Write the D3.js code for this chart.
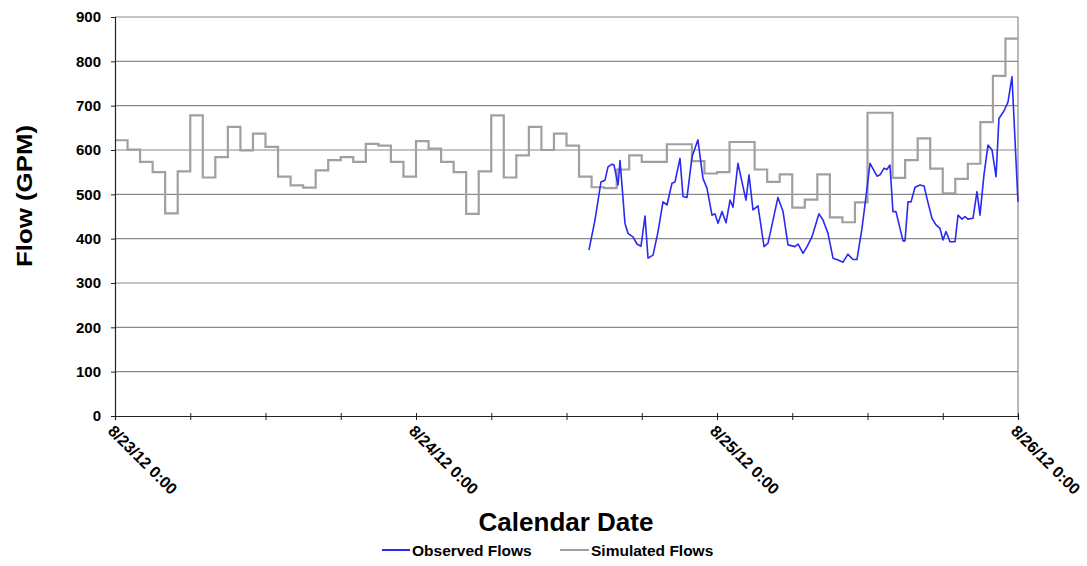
<!DOCTYPE html>
<html>
<head>
<meta charset="utf-8">
<script src="https://cdn.jsdelivr.net/npm/d3@7"></script>
<style>
  html, body { margin: 0; padding: 0; background: #fff; }
  svg { display: block; }
  text { font-family: "Liberation Sans", Arial, sans-serif; font-weight: bold; fill: #000; }
</style>
</head>
<body>
<svg id="chart" width="1087" height="566"></svg>
<script>
// Hourly simulated flows (GPM), starting 8/23/12 0:00
const simFlows = [
  622, 601, 573, 550, 457, 552, 678, 538, 584, 652, 599, 637, 607, 540, 520, 515, 554, 577, 584, 573, 614, 610, 573, 540,
  620, 603, 573, 550, 456, 552, 678, 538, 588, 652, 600, 637, 610, 540, 516, 514, 556, 588, 573, 573, 613, 613, 575, 547,
  550, 618, 618, 556, 528, 545, 470, 488, 545, 448, 437, 482, 684, 684, 537, 577, 626, 558, 502, 535, 569, 663, 767, 851
];

// Observed flows: hours since 8/23/12 0:00 and flow (GPM)
const obsHours = [
  37.79, 38.27, 38.75, 39.07, 39.31, 39.63, 39.79, 40.11, 40.27, 40.66, 40.90, 41.30, 41.62, 41.94, 42.26, 42.50,
  42.90, 43.30, 43.69, 44.01, 44.41, 44.65, 45.05, 45.29, 45.61, 46.01, 46.48, 46.88, 47.20, 47.60, 47.84, 48.08,
  48.40, 48.72, 49.04, 49.28, 49.67, 50.31, 50.55, 50.87, 51.27, 51.75, 52.07, 52.86, 53.26, 53.66, 54.22, 54.46,
  54.86, 55.18, 55.57, 56.13, 56.45, 56.85, 57.25, 57.65, 58.05, 58.44, 58.84, 59.16, 59.56, 59.88, 60.20, 60.76,
  61.00, 61.32, 61.55, 61.79, 62.03, 62.27, 62.83, 62.99, 63.23, 63.47, 63.79, 64.19, 64.51, 64.74, 65.14, 65.46,
  65.78, 66.02, 66.26, 66.58, 66.98, 67.22, 67.54, 67.77, 68.01, 68.41, 68.73, 68.97, 69.29, 69.61, 69.93, 70.25,
  70.48, 70.88, 71.20, 71.52, 72.00
];
const obsFlows = [
  374, 442, 528, 532, 562, 568, 566, 521, 576, 435, 412, 404, 388, 383, 451, 356,
  363, 416, 483, 476, 525, 528, 581, 495, 493, 585, 623, 536, 514, 453, 456, 435,
  461, 436, 487, 471, 570, 487, 544, 465, 474, 382, 390, 493, 462, 386, 382, 388,
  367, 382, 404, 456, 442, 412, 356, 352, 347, 365, 353, 353, 423, 495, 570, 541,
  544, 559, 556, 566, 461, 461, 395, 395, 483, 483, 516, 521, 519, 491, 446, 431,
  423, 397, 416, 393, 393, 453, 444, 450, 444, 446, 506, 453, 545, 611, 600, 540,
  671, 688, 708, 765, 483
];

const yTicks = [0, 100, 200, 300, 400, 500, 600, 700, 800, 900];
const dayLabels = ["8/23/12 0:00", "8/24/12 0:00", "8/25/12 0:00", "8/26/12 0:00"];
const seriesNames = ["Observed Flows", "Simulated Flows"];
const seriesColors = ["#2a2af2", "#a0a0a0"];

const start = new Date(2012, 7, 23, 0, 0);
const end = new Date(2012, 7, 26, 0, 0);
const HOUR = 3600 * 1000;
const atHour = h => new Date(start.getTime() + h * HOUR);

const plot = { left: 115, right: 1018, top: 17, bottom: 416 };

const x = d3.scaleTime().domain([start, end]).range([plot.left, plot.right]);
const y = d3.scaleLinear().domain([0, 900]).range([plot.bottom, plot.top]);

const svg = d3.select("#chart");

// horizontal gridlines
svg.append("g")
  .selectAll("line")
  .data(yTicks.filter(v => v > 0))
  .join("line")
  .attr("x1", plot.left).attr("x2", plot.right)
  .attr("y1", d => y(d)).attr("y2", d => y(d))
  .attr("stroke", "#8a8a8a").attr("stroke-width", 1.2);

// right edge of plot area
svg.append("line")
  .attr("x1", plot.right).attr("x2", plot.right)
  .attr("y1", plot.top).attr("y2", plot.bottom)
  .attr("stroke", "#8a8a8a").attr("stroke-width", 1.2);

// simulated flows as an hourly step series
const simData = simFlows.map((v, i) => ({ t: atHour(i), v }));
simData.push({ t: atHour(simFlows.length), v: simFlows[simFlows.length - 1] });
svg.append("path")
  .datum(simData)
  .attr("fill", "none")
  .attr("stroke", seriesColors[1])
  .attr("stroke-width", 2.2)
  .attr("d", d3.line().x(d => x(d.t)).y(d => y(d.v)).curve(d3.curveStepAfter));

// observed flows
const obsData = obsHours.map((h, i) => ({ t: atHour(h), v: obsFlows[i] }));
svg.append("path")
  .datum(obsData)
  .attr("fill", "none")
  .attr("stroke", seriesColors[0])
  .attr("stroke-width", 1.6)
  .attr("stroke-linejoin", "round")
  .attr("d", d3.line().x(d => x(d.t)).y(d => y(d.v)));

// y axis
const yAxis = svg.append("g")
  .attr("transform", `translate(${plot.left},0)`)
  .call(d3.axisLeft(y).tickValues(yTicks).tickSize(4).tickPadding(10));
yAxis.select(".domain").attr("stroke", "#222").attr("stroke-width", 1.2);
yAxis.selectAll(".tick line").attr("stroke", "#222");
yAxis.selectAll(".tick text").style("font-size", "15px").attr("font-family", null);

// x axis: ticks every 6 hours, labels at each day
const tickTimes = d3.range(0, 73, 6).map(atHour);
const xAxis = svg.append("g")
  .attr("transform", `translate(0,${plot.bottom})`)
  .call(d3.axisBottom(x).tickValues(tickTimes).tickSize(4).tickFormat(""));
xAxis.select(".domain").attr("stroke", "#222").attr("stroke-width", 1.2);
xAxis.selectAll(".tick line").attr("stroke", "#222").attr("y1", -3);

const dayTimes = dayLabels.map((_, i) => atHour(i * 24));
svg.append("g")
  .selectAll("text")
  .data(dayLabels)
  .join("text")
  .attr("transform", (d, i) => `translate(${x(dayTimes[i]) - 4},${plot.bottom + 12}) rotate(45)`)
  .attr("text-anchor", "start")
  .attr("dy", "0.35em")
  .style("font-size", "16px")
  .text(d => d);

// axis titles
svg.append("text")
  .attr("transform", `translate(32,196) rotate(-90)`)
  .attr("text-anchor", "middle")
  .attr("textLength", 142)
  .attr("lengthAdjust", "spacingAndGlyphs")
  .style("font-size", "22px")
  .text("Flow (GPM)");

svg.append("text")
  .attr("x", 566).attr("y", 531)
  .attr("text-anchor", "middle")
  .style("font-size", "26px")
  .text("Calendar Date");

// legend
const legend = svg.append("g").attr("transform", "translate(382,550)");
const legendItems = [
  { name: seriesNames[0], color: seriesColors[0], x: 0, w: 28 },
  { name: seriesNames[1], color: seriesColors[1], x: 178, w: 29 }
];
const li = legend.selectAll("g").data(legendItems).join("g")
  .attr("transform", d => `translate(${d.x},0)`);
li.append("line")
  .attr("x1", 0).attr("x2", d => d.w).attr("y1", 0).attr("y2", 0)
  .attr("stroke", d => d.color).attr("stroke-width", 2);
li.append("text")
  .attr("x", d => d.w + 2).attr("y", 5.5)
  .style("font-size", "15.5px")
  .text(d => d.name);
</script>
</body>
</html>
